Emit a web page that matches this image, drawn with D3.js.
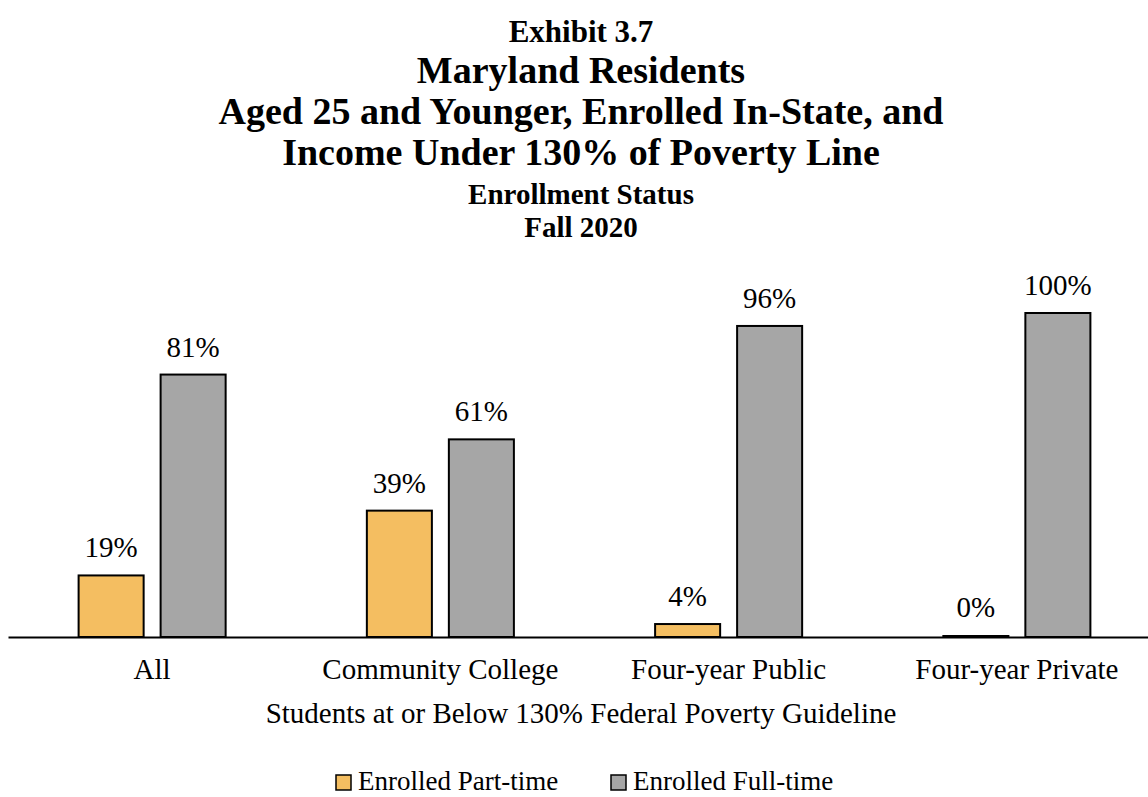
<!DOCTYPE html>
<html>
<head>
<meta charset="utf-8">
<script src="https://cdn.jsdelivr.net/npm/d3@7"></script>
<style>
  body { margin: 0; background: #fff; }
  svg { display: block; font-family: "Liberation Serif", "Times New Roman", serif; }
</style>
</head>
<body>
<svg id="canvas"></svg>
<script>
const CATEGORIES = ["All", "Community College", "Four-year Public", "Four-year Private"];
const SERIES = ["Enrolled Part-time", "Enrolled Full-time"];
const PART_TIME = [19, 39, 4, 0];
const FULL_TIME = [81, 61, 96, 100];
const COLORS = ["#F4BE61", "#A6A6A6"];
const AXIS_TITLE = "Students at or Below 130% Federal Poverty Guideline";

//text, font size, baseline
const TITLE_LINES = [
    ["Exhibit 3.7", 31, 42],
    ["Maryland Residents", 38, 83],
    ["Aged 25 and Younger, Enrolled In-State, and", 38, 124],
    ["Income Under 130% of Poverty Line", 38, 165],
    ["Enrollment Status", 29, 204],
    ["Fall 2020", 29, 237]
]

const width = 1148;
const height = 797;
const baseline = 637;
const centerX = 581;

const data = CATEGORIES.map((c, i) => ({ category: c, values: [PART_TIME[i], FULL_TIME[i]] }));

const canvas = d3.select("#canvas")
    .attr("width", width)
    .attr("height", height)

//Titles
canvas.selectAll(".title")
    .data(TITLE_LINES)
    .enter()
    .append("text")
    .attr("class", "title")
    .attr("x", centerX)
    .attr("y", d => d[2])
    .attr("text-anchor", "middle")
    .attr("font-weight", "bold")
    .attr("font-size", d => d[1])
    .text(d => d[0]);

//Scales
const x0 = d3.scaleBand()
    .domain(CATEGORIES)
    .range([8, 1161]);
const x1 = d3.scaleBand()
    .domain([0, 1])
    .range([0, x0.bandwidth()])
    .paddingInner(0.207)
    .paddingOuter(0.861);
const yScale = d3.scaleLinear()
    .domain([0, 100])
    .range([baseline, 313]);

//Bars
const groups = canvas.selectAll(".group")
    .data(data)
    .enter()
    .append("g")
    .attr("class", "group")
    .attr("transform", d => `translate(${x0(d.category)}, 0)`);

//zero values still get a flat outlined bar on the axis
groups.selectAll("rect")
    .data(d => d.values)
    .enter()
    .append("rect")
    .attr("x", (d, i) => x1(i))
    .attr("y", d => Math.min(yScale(d), baseline - 1))
    .attr("width", x1.bandwidth())
    .attr("height", d => Math.max(baseline - yScale(d), 1))
    .attr("fill", (d, i) => COLORS[i])
    .attr("stroke", "#000")
    .attr("stroke-width", 2);

groups.selectAll(".label")
    .data(d => d.values)
    .enter()
    .append("text")
    .attr("class", "label")
    .attr("x", (d, i) => x1(i) + x1.bandwidth() / 2)
    .attr("y", d => yScale(d) - (d === 0 ? 20 : 18))
    .attr("text-anchor", "middle")
    .attr("font-size", 29)
    .text(d => d + "%");

//Axis
const xAxis = d3.axisBottom(x0).tickSize(0).tickPadding(21);
const axisG = canvas.append("g")
    .attr("transform", `translate(0, ${baseline})`)
    .call(xAxis);
axisG.select(".domain").attr("stroke", "#000").attr("stroke-width", 2);
axisG.selectAll("text")
    .attr("font-family", "Liberation Serif, serif")
    .attr("font-size", 29)
    .attr("fill", "#000");

canvas.append("text")
    .attr("x", centerX)
    .attr("y", 723)
    .attr("text-anchor", "middle")
    .attr("font-size", 29)
    .text(AXIS_TITLE);

//Legend
const legendX = [336, 611];
const legend = canvas.selectAll(".key")
    .data(SERIES)
    .enter()
    .append("g")
    .attr("class", "key")
    .attr("transform", (d, i) => `translate(${legendX[i]}, 775)`);
legend.append("rect")
    .attr("width", 15)
    .attr("height", 15)
    .attr("fill", (d, i) => COLORS[i])
    .attr("stroke", "#000")
    .attr("stroke-width", 1.5);
legend.append("text")
    .attr("x", 22)
    .attr("y", 15)
    .attr("font-size", 27)
    .text(d => d);
</script>
</body>
</html>
